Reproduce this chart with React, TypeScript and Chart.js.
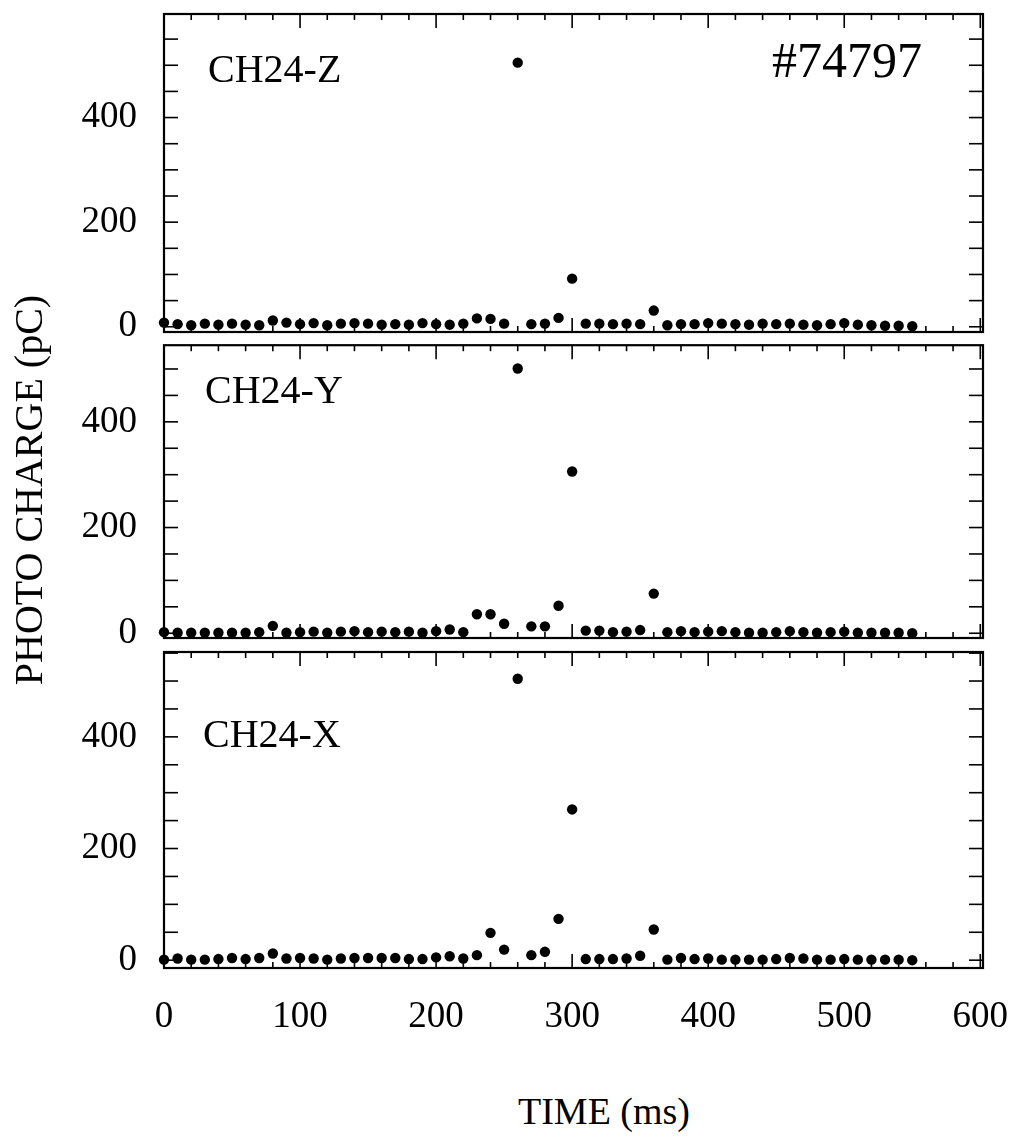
import React, { useEffect, useRef } from 'react';
import { Chart, registerables } from 'chart.js';

Chart.register(...registerables);

// ---- data -------------------------------------------------------------
const TIMES = [
  0, 10, 20, 30, 40, 50, 60, 70, 80, 90, 100, 110, 120, 130, 140, 150, 160, 170, 180, 190,
  200, 210, 220, 230, 240, 250, 260, 270, 280, 290, 300, 310, 320, 330, 340, 350, 360, 370, 380, 390,
  400, 410, 420, 430, 440, 450, 460, 470, 480, 490, 500, 510, 520, 530, 540, 550,
];

const CH24_Z = [
  8, 5, 3, 6, 4, 6, 4, 3, 12, 8, 5, 7, 3, 6, 7, 6, 4, 5, 4, 7,
  5, 4, 6, 16, 15, 6, 505, 5, 6, 17, 92, 6, 6, 5, 6, 5, 31, 3, 5, 5,
  7, 6, 5, 4, 6, 5, 6, 4, 3, 5, 7, 4, 3, 2, 2, 1,
];

const CH24_Y = [
  2, 1, 1, 1, 1, 1, 1, 2, 14, 1, 2, 3, 1, 3, 4, 2, 3, 2, 3, 1,
  4, 7, 2, 36, 36, 18, 501, 13, 13, 52, 306, 5, 5, 2, 3, 6, 75, 2, 4, 2,
  3, 4, 2, 1, 1, 2, 4, 2, 1, 2, 3, 1, 1, 1, 1, 0,
];

const CH24_X = [
  1, 3, 1, 1, 2, 4, 2, 4, 12, 3, 4, 3, 1, 3, 4, 4, 4, 4, 2, 2,
  5, 7, 3, 9, 49, 19, 504, 9, 15, 74, 270, 2, 2, 2, 3, 8, 55, 1, 4, 2,
  3, 1, 1, 1, 1, 2, 4, 3, 1, 1, 2, 1, 1, 1, 1, 0,
];

const Y_TICK_LABELS = [0, 200, 400];
const X_TICK_LABELS = [0, 100, 200, 300, 400, 500, 600];
const PANEL_LABELS = ['CH24-Z', 'CH24-Y', 'CH24-X'];
const SHOT_LABEL = '#74797';
const Y_TITLE = 'PHOTO CHARGE (pC)';
const X_TITLE = 'TIME (ms)';

// ---- style ------------------------------------------------------------
const FONT = '"Liberation Serif", "DejaVu Serif", serif';
const W = 1024;
const Y_AXIS_W = 164;
const PAD_RIGHT = 41;

const frameTicks = {
  id: 'frameTicks',
  beforeDatasetsDraw(chart: any) {
    const { ctx, chartArea: a, scales } = chart;
    const xs = scales.x;
    const ys = scales.y;
    ctx.save();
    ctx.strokeStyle = '#000';
    ctx.lineWidth = 1.6;
    const line = (x1: number, y1: number, x2: number, y2: number) => {
      ctx.beginPath();
      ctx.moveTo(x1, y1);
      ctx.lineTo(x2, y2);
      ctx.stroke();
    };
    ys.ticks.forEach((t: any) => {
      const py = ys.getPixelForValue(t.value);
      line(a.left, py, a.left + 14, py);
      line(a.right, py, a.right - 14, py);
    });
    xs.ticks.forEach((t: any) => {
      const px = xs.getPixelForValue(t.value);
      const len = Math.round(t.value) % 100 === 0 ? 14 : 6;
      line(px, a.top, px, a.top + len);
      line(px, a.bottom, px, a.bottom - len);
    });
    ctx.lineWidth = 2.2;
    ctx.strokeRect(a.left, a.top, a.right - a.left, a.bottom - a.top);
    ctx.restore();
  },
};

type PanelProps = {
  values: number[];
  yMin: number;
  yMax: number;
  top: number;
  height: number;
  padTop: number;
  padBottom: number;
  showX: boolean;
  xAxisHeight: number;
};

function Panel({ values, yMin, yMax, top, height, padTop, padBottom, showX, xAxisHeight }: PanelProps) {
  const ref = useRef<HTMLCanvasElement | null>(null);
  useEffect(() => {
    if (!ref.current) return;
    const chart = new Chart(ref.current, {
      type: 'scatter',
      data: {
        datasets: [
          {
            data: TIMES.map((t, i) => ({ x: t, y: values[i] })),
            pointRadius: 5.2,
            pointHoverRadius: 5.2,
            backgroundColor: '#000',
            borderWidth: 0,
            clip: false as any,
          },
        ],
      },
      options: {
        animation: false,
        responsive: false,
        devicePixelRatio: 1,
        events: [],
        layout: { padding: { left: 0, right: PAD_RIGHT, top: padTop, bottom: padBottom } },
        plugins: { legend: { display: false }, tooltip: { enabled: false } },
        scales: {
          x: {
            type: 'linear',
            min: 0,
            max: 602,
            grid: { display: false, drawTicks: false },
            border: { display: false },
            ticks: {
              display: showX,
              stepSize: 20,
              autoSkip: false,
              maxRotation: 0,
              minRotation: 0,
              includeBounds: false,
              padding: 27,
              color: '#000',
              font: { family: FONT, size: 37 },
              callback: (v: any) => (X_TICK_LABELS.includes(Math.round(Number(v))) ? String(Math.round(Number(v))) : ''),
            },
            afterFit: (s: any) => {
              s.height = xAxisHeight;
              s.paddingLeft = 0;
              s.paddingRight = 0;
              s.paddingTop = 0;
              s.paddingBottom = 0;
            },
          },
          y: {
            type: 'linear',
            min: yMin,
            max: yMax,
            grid: { display: false, drawTicks: false },
            border: { display: false },
            ticks: {
              stepSize: 50,
              autoSkip: false,
              includeBounds: false,
              padding: 27,
              color: '#000',
              font: { family: FONT, size: 37 },
              callback: (v: any) => (Y_TICK_LABELS.includes(Math.round(Number(v))) ? String(Math.round(Number(v))) : ''),
            },
            afterFit: (s: any) => {
              s.width = Y_AXIS_W;
              s.paddingLeft = 0;
              s.paddingRight = 0;
              s.paddingTop = 0;
              s.paddingBottom = 0;
            },
          },
        },
      },
      plugins: [frameTicks],
    });
    return () => chart.destroy();
  }, []);
  return (
    <canvas
      ref={ref}
      width={W}
      height={height}
      style={{ position: 'absolute', left: 0, top, width: W, height, display: 'block' }}
    />
  );
}

function Label({ text, left, baseline, size }: { text: string; left: number; baseline: number; size: number }) {
  return (
    <div
      style={{
        position: 'absolute',
        left,
        top: baseline - 0.8375 * size,
        fontFamily: FONT,
        fontSize: size,
        lineHeight: 1,
        whiteSpace: 'nowrap',
        color: '#000',
      }}
    >
      {text}
    </div>
  );
}

export default function App() {
  return (
    <div style={{ position: 'absolute', left: 0, top: 0, width: W, height: 1143, background: '#fff', overflow: 'hidden' }}>
      <Panel values={CH24_Z} yMin={-10} yMax={598} top={0} height={340} padTop={14} padBottom={8} showX={false} xAxisHeight={0} />
      <Panel values={CH24_Y} yMin={-9} yMax={545} top={340} height={305} padTop={5} padBottom={7} showX={false} xAxisHeight={0} />
      <Panel values={CH24_X} yMin={-14} yMax={552} top={645} height={400} padTop={7} padBottom={0} showX={true} xAxisHeight={77} />

      <Label text={PANEL_LABELS[0]} left={208} baseline={82} size={40} />
      <Label text={PANEL_LABELS[1]} left={205} baseline={403} size={40} />
      <Label text={PANEL_LABELS[2]} left={203} baseline={747} size={40} />
      <Label text={SHOT_LABEL} left={772} baseline={77} size={50} />

      <div
        style={{
          position: 'absolute',
          left: 29,
          top: 490,
          width: 600,
          transform: 'translate(-50%, -50%) rotate(-90deg)',
          textAlign: 'center',
          fontFamily: FONT,
          fontSize: 40,
          lineHeight: 1,
          whiteSpace: 'nowrap',
          color: '#000',
        }}
      >
        {Y_TITLE}
      </div>
      <div
        style={{
          position: 'absolute',
          left: 604,
          top: 1092,
          transform: 'translateX(-50%)',
          fontFamily: FONT,
          fontSize: 38,
          lineHeight: 1,
          whiteSpace: 'nowrap',
          color: '#000',
        }}
      >
        {X_TITLE}
      </div>
    </div>
  );
}
